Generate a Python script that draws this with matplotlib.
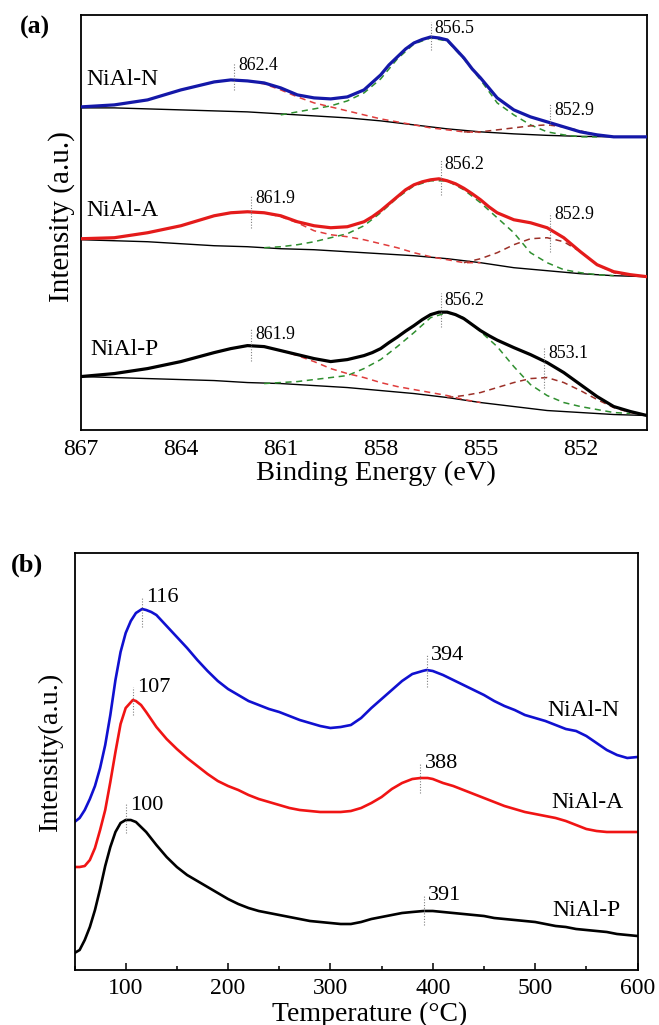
import matplotlib
matplotlib.use("Agg")
import matplotlib.pyplot as plt
from matplotlib.ticker import MultipleLocator

plt.rcParams['font.family'] = ['Liberation Serif', 'DejaVu Serif']

# ---------------- Panel (a): Ni 2p XPS ----------------
E_env = [867, 866, 865, 864, 863, 862.5, 862, 861.5, 861, 860.5, 860, 859.5, 859,
         858.5, 858.25, 858, 857.75, 857.5, 857.25, 857, 856.75, 856.5, 856.25, 856,
         855.75, 855.5, 855.25, 855, 854.75, 854.5,
         854, 853.5, 853, 852.5, 852, 851.5, 851, 850.5, 850]
N_env = [324, 326, 331, 341, 349, 351, 350, 348, 343, 336, 333, 332, 334,
         341, 348.5, 356, 366, 374, 382, 388, 391.5, 394, 393, 391,
         382, 373, 362, 353, 343, 333,
         321, 314, 309, 304, 299, 296, 294, 294, 294]
A_env = [192, 193, 198, 205, 215, 218, 219, 218, 215, 209, 205, 203, 204,
         209, 214, 220, 227, 234, 241, 246, 249, 251, 252, 250,
         247, 242.5, 237, 231, 224, 218,
         211, 208, 203, 193, 179, 166, 159, 156, 154]
P_env = [54, 57, 62, 69, 78, 82, 85, 84, 80, 76, 72, 69, 71,
         75, 78, 82, 88, 93.5, 99.5, 105, 111, 116, 118.5, 118.5,
         116, 112, 106, 100, 95, 90.5,
         83, 76, 68, 58, 46, 34, 24, 19, 15]

E_bg = [867, 866, 865, 864, 863, 862, 861, 860, 859, 858, 857, 856, 855, 854, 853, 852, 851, 850]
N_bg = [323, 323, 322, 321, 320, 319, 317, 315, 313, 310, 306, 302, 299, 297, 295.5, 294.5, 294, 294]
A_bg = [191, 190, 189, 187, 185, 184, 182, 181, 179, 177, 175, 172, 168, 163, 160, 157, 155, 154]
P_bg = [54, 53, 52, 51, 50, 48, 47, 45, 43, 40, 37, 33, 28, 24, 20, 18, 16, 15]

# main Ni2+ 2p3/2 component (green)
E_N_main = [861, 860.5, 860, 859.5, 859, 858.5, 858, 857.5, 857, 856.5, 856, 855.5, 855,
            854.5, 854, 853.5, 853, 852.5, 852, 851.5]
N_main = [316, 319, 322, 325, 330, 338, 352, 372, 387, 393, 390, 372, 351, 328, 316, 306,
          299, 296, 294, 294]
E_A_main = [861.5, 861, 860.5, 860, 859.5, 859, 858.5, 858, 857.5, 857, 856.5, 856, 855.5,
            855, 854.5, 854, 853.5, 853, 852.5, 852, 851.5, 851]
A_main = [183, 184, 186, 189, 193, 197, 205, 218, 233, 245, 250, 250, 241, 228, 213, 198,
          178, 168, 161, 158, 156, 155]
E_P_main = [861.5, 861, 860.5, 860, 859.5, 859, 858.5, 858, 857.5, 857, 856.5, 856, 855.5,
            855, 854.5, 854, 853.5, 853, 852.5, 852, 851.5, 851, 850.5]
P_main = [47, 48, 49, 51, 53, 55, 62, 71, 84, 98, 113, 118, 113, 99, 84, 64, 46, 35, 28,
          24, 21, 18, 17]

# satellite component (red)
E_sat = [867, 866, 865, 864, 863, 862.5, 862, 861.5, 861, 860.5, 860, 859.5, 859, 858.5,
         858, 857.5, 857, 856.5, 856, 855.5, 855]
N_sat = [324, 326, 331, 341, 349, 351, 350, 347, 341, 334, 328, 324, 320, 316, 312, 309,
         306, 303, 301, 299, 298.5]
A_sat = [192, 193, 198, 205, 215, 218, 219, 218, 214, 208, 200, 196, 194, 191, 187, 183,
         178, 174, 171, 168, 168]
P_sat = [54, 57, 62, 69, 78, 82, 85, 84, 80, 75, 69, 62, 57, 53, 48, 44, 41, 38, 35, 31, 28]

# low-BE component (dark red)
E_N_low = [855.5, 855, 854.5, 854, 853.5, 853, 852.5, 852, 851.5, 851]
N_low = [299, 299, 301, 303, 305, 306, 304, 300, 296, 294]
E_A_low = [855.5, 855, 854.5, 854, 853.5, 853, 852.5, 852, 851.5, 851, 850.5]
A_low = [168, 172, 178, 186, 192, 193, 189, 179, 166, 158, 155]
E_P_low = [856, 855.5, 855, 854.5, 854, 853.5, 853, 852.5, 852, 851.5, 851, 850.5, 850]
P_low = [33, 35, 38, 43, 48, 52, 53, 48, 40, 31, 23, 18, 15]

xps_samples = ["NiAl-N", "NiAl-A", "NiAl-P"]
xps_peaks = {"NiAl-N": [862.4, 856.5, 852.9],
             "NiAl-A": [861.9, 856.2, 852.9],
             "NiAl-P": [861.9, 856.2, 853.1]}
xps_ticks = [867, 864, 861, 858, 855, 852]

# ---------------- Panel (b): H2-TPR ----------------
T_N = [50, 55, 60, 65, 70, 75, 80, 85, 90, 95, 100, 105, 110, 116, 120, 125, 130, 140, 150,
       160, 170, 180, 190, 200, 210, 220, 230, 240, 250, 260, 270, 280, 290, 300, 310, 320,
       330, 340, 350, 360, 370, 380, 390, 394, 400, 410, 420, 430, 440, 450, 460, 470, 480,
       490, 500, 510, 520, 530, 540, 550, 560, 570, 580, 590, 600]
I_N = [148, 152, 160, 171, 184, 202, 225, 255, 290, 318, 337, 349, 357, 361, 360, 358, 355,
       344, 333, 322, 310, 299, 289, 281, 275, 269, 265, 261, 258, 254, 250, 247, 244, 242,
       243, 245, 252, 262, 271, 280, 289, 296, 299, 300, 299, 295, 290, 285, 280, 275, 269,
       264, 260, 255, 252, 249, 245, 241, 239, 234, 227, 220, 215, 212, 213]
T_A = [50, 55, 60, 65, 70, 75, 80, 85, 90, 95, 100, 107, 110, 115, 120, 130, 140, 150, 160,
       170, 180, 190, 200, 210, 220, 230, 240, 250, 260, 270, 280, 290, 300, 310, 320, 330,
       340, 350, 360, 370, 380, 388, 395, 400, 410, 420, 430, 440, 450, 460, 470, 480, 490,
       500, 510, 520, 530, 540, 550, 560, 570, 580, 590, 600]
I_A = [103, 103, 104, 110, 122, 140, 160, 188, 218, 246, 262, 270, 269, 265, 258, 243, 231,
       221, 212, 204, 196, 189, 184, 180, 175, 171, 168, 165, 162, 160, 159, 158, 158, 158,
       159, 162, 167, 173, 181, 187, 191, 192, 192, 191, 187, 184, 180, 176, 172, 168, 164,
       161, 158, 156, 154, 152, 149, 145, 141, 139, 138, 138, 138, 138]
T_P = [50, 55, 60, 65, 70, 75, 80, 85, 90, 95, 100, 105, 110, 120, 130, 140, 150, 160, 170,
       180, 190, 200, 210, 220, 230, 240, 250, 260, 270, 280, 290, 300, 310, 320, 330, 340,
       350, 360, 370, 380, 391, 400, 410, 420, 430, 440, 450, 460, 470, 480, 490, 500, 510,
       520, 530, 540, 550, 560, 570, 580, 590, 600]
I_P = [17, 20, 30, 43, 60, 81, 104, 123, 138, 147, 150, 150, 148, 138, 125, 113, 103, 95,
       89, 83, 77, 71, 66, 62, 59, 57, 55, 53, 51, 49, 48, 47, 46, 46, 48, 51, 53, 55, 57,
       58, 59, 59, 58, 57, 56, 55, 54, 52, 51, 50, 49, 48, 46, 44, 43, 41, 40, 39, 38, 36,
       35, 34]
tpr_peaks = {"NiAl-N": [116, 394], "NiAl-A": [107, 388], "NiAl-P": [100, 391]}
tpr_ticks = [100, 200, 300, 400, 500, 600]

# ---------------- styles / layout ----------------
BLUE_A = '#1418a8'
RED_A = '#e41b1b'
BLUE_B = '#1010d0'
RED_B = '#f01414'
GREEN = '#2f8f2f'
SATRED = '#e03c3c'
DKRED = '#9c3028'
DOT = dict(color='#808080', lw=0.8, ls=(0, (1, 1.5)))

fig = plt.figure(figsize=(6.59, 10.25), dpi=100)
ax1 = fig.add_axes([81 / 659, 1 - 430.5 / 1025, 566 / 659, 415.5 / 1025])
ax2 = fig.add_axes([74.5 / 659, 1 - 970 / 1025, 563 / 659, 417 / 1025])

# ----- panel (a) -----
env_sets = [(N_env, N_bg, E_N_main, N_main, N_sat, E_N_low, N_low, BLUE_A),
            (A_env, A_bg, E_A_main, A_main, A_sat, E_A_low, A_low, RED_A),
            (P_env, P_bg, E_P_main, P_main, P_sat, E_P_low, P_low, 'black')]
for env, bg, em, main, sat, el, low, col in env_sets:
    ax1.plot(E_bg, bg, color='black', lw=1.0, zorder=2)
    ax1.plot(em, main, color=GREEN, lw=1.1, ls=(0, (4, 3)), zorder=3)
    ax1.plot(E_sat, sat, color=SATRED, lw=1.1, ls=(0, (4, 3)), zorder=3)
    ax1.plot(el, low, color=DKRED, lw=1.1, ls=(0, (4, 3)), zorder=3)
    ax1.plot(E_env, env, color=col, lw=2.3, zorder=4, solid_joinstyle='round',
             solid_capstyle='round')

# peak annotations (a): (line y0, line y1, text y)
ann_a = {"NiAl-N": [(341, 368, 365), (381, 409, 402), (306, 328, 320)],
         "NiAl-A": [(203, 236, 232), (236, 271, 266), (179, 218, 216)],
         "NiAl-P": [(70, 102, 96), (104, 138, 130), (43, 83, 77)]}
for s in xps_samples:
    for pk, (y0, y1, yt) in zip(xps_peaks[s], ann_a[s]):
        ax1.plot([pk, pk], [y0, y1], zorder=5, **DOT)
        ax1.annotate(f"{pk:.1f}", (pk, yt), xytext=(3, 0), textcoords='offset points',
                     ha='left', va='center', fontsize=12.8)

lab_a = {"NiAl-N": (866.83, 351), "NiAl-A": (866.83, 220), "NiAl-P": (866.71, 81)}
for s in xps_samples:
    ax1.text(*lab_a[s], s, ha='left', va='center', fontsize=17)

ax1.set_xlim(867, 850)
ax1.set_ylim(0, 416)
ax1.set_xticks(xps_ticks)
ax1.set_yticks([])
ax1.tick_params(axis='x', length=0, pad=6, labelsize=17)
for sp in ax1.spines.values():
    sp.set_linewidth(1.3)

# ----- panel (b) -----
ax2.plot(T_N, I_N, color=BLUE_B, lw=1.9, solid_joinstyle='round')
ax2.plot(T_A, I_A, color=RED_B, lw=1.9, solid_joinstyle='round')
ax2.plot(T_P, I_P, color='black', lw=1.9, solid_joinstyle='round')

ann_b = {"NiAl-N": [(343, 372, 373), (283, 315, 315)],
         "NiAl-A": [(255, 283, 283), (177, 207, 207)],
         "NiAl-P": [(137, 167, 165), (45, 75, 74)]}
for s in xps_samples:
    for pk, (y0, y1, yt) in zip(tpr_peaks[s], ann_b[s]):
        ax2.plot([pk, pk], [y0, y1], zorder=5, **DOT)
        ax2.annotate(f"{pk}", (pk, yt), xytext=(3, 0), textcoords='offset points',
                     ha='left', va='center', fontsize=16)

lab_b = {"NiAl-N": (511.6, 259), "NiAl-A": (515.5, 167), "NiAl-P": (516.5, 59)}
for s in xps_samples:
    ax2.text(*lab_b[s], s, ha='left', va='center', fontsize=17)

ax2.set_xlim(50, 600)
ax2.set_ylim(0, 417)
ax2.set_xticks(tpr_ticks)
ax2.xaxis.set_minor_locator(MultipleLocator(50))
ax2.set_yticks([])
ax2.tick_params(axis='x', which='major', direction='in', length=5, width=1.1,
                pad=6, labelsize=17)
ax2.tick_params(axis='x', which='minor', direction='in', length=3, width=1.1)
for sp in ax2.spines.values():
    sp.set_linewidth(1.3)

# ----- labels -----
fig.text(376 / 659, 1 - 480 / 1025, "Binding Energy (eV)", ha='center', va='baseline',
         fontsize=20.5)
fig.text(62 / 659, 1 - 217 / 1025, "Intensity (a.u.)", ha='center', va='center',
         rotation=90, fontsize=21)
fig.text(370 / 659, 1 - 1021 / 1025, "Temperature (\u00b0C)", ha='center', va='baseline',
         fontsize=20)
fig.text(50 / 659, 1 - 752 / 1025, "Intensity(a.u.)", ha='center', va='center',
         rotation=90, fontsize=20.5)
fig.text(35 / 659, 1 - 27 / 1025, "(a)", ha='center', va='center', fontsize=18.5,
         fontweight='bold')
fig.text(27 / 659, 1 - 565 / 1025, "(b)", ha='center', va='center', fontsize=19,
         fontweight='bold')

fig.savefig("out.png", dpi=100)
